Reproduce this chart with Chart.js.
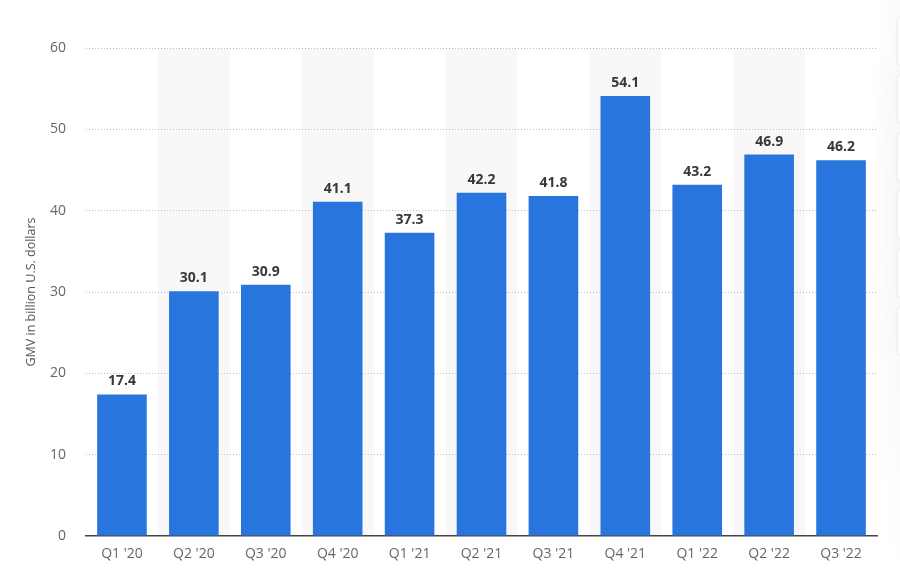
<!DOCTYPE html>
<html>
<head>
<meta charset="utf-8">
<script src="https://cdn.jsdelivr.net/npm/chart.js@4.4.1/dist/chart.umd.min.js"></script>
<style>
  html, body { margin: 0; padding: 0; background: #fff; overflow: hidden; }
  #wrap { position: relative; width: 900px; height: 587px; }
  #side { position: absolute; left: 872px; top: 0; width: 28px; height: 587px;
          background: radial-gradient(ellipse at 100% 35%, rgba(0,0,0,0.035), rgba(0,0,0,0) 70%); }
  .btn { position: absolute; left: 25px; width: 20px; height: 48px; border: 1px solid #eee;
         border-radius: 5px; background: #fff; box-shadow: 0 0 4px rgba(0,0,0,0.05); }
</style>
</head>
<body>
<div id="wrap">
  <canvas id="chart" width="900" height="587"></canvas>
  <div id="side">
    <div class="btn" style="top:16px"></div>
    <div class="btn" style="top:74px"></div>
    <div class="btn" style="top:132px"></div>
    <div class="btn" style="top:190px"></div>
    <div class="btn" style="top:248px"></div>
    <div class="btn" style="top:306px"></div>
  </div>
</div>
<script>
var quarters = ["Q1 '20","Q2 '20","Q3 '20","Q4 '20","Q1 '21","Q2 '21","Q3 '21","Q4 '21","Q1 '22","Q2 '22","Q3 '22"];
var gmv = [17.4, 30.1, 30.9, 41.1, 37.3, 42.2, 41.8, 54.1, 43.2, 46.9, 46.2];
var yTicks = [0, 10, 20, 30, 40, 50, 60];

var fontFamily = "'Open Sans', 'Noto Sans', sans-serif";

// light grey bands behind every second category
var bandPlugin = {
  id: 'bands',
  beforeDraw: function(chart)
  {
    var ctx = chart.ctx, area = chart.chartArea, x = chart.scales.x;
    var w = (area.right - area.left) / quarters.length;
    ctx.save();
    ctx.fillStyle = '#f8f8f8';
    for (var i = 1; i < quarters.length; i += 2)
    {
      var cx = x.getPixelForValue(i);
      ctx.fillRect(cx - w/2, area.top, w, area.bottom - area.top);
    }
    ctx.restore();
  }
};

// value labels above the bars
var labelPlugin = {
  id: 'valueLabels',
  afterDatasetsDraw: function(chart)
  {
    var ctx = chart.ctx;
    var meta = chart.getDatasetMeta(0);
    ctx.save();
    ctx.font = "bold 14px " + fontFamily;
    ctx.fillStyle = '#383838';
    ctx.textAlign = 'center';
    ctx.textBaseline = 'alphabetic';
    meta.data.forEach(function(bar, i)
    {
      ctx.fillText(gmv[i].toFixed(1), bar.x, bar.y - 9);
    });
    ctx.restore();
  }
};

new Chart(document.getElementById('chart'), {
  type: 'bar',
  data: {
    labels: quarters,
    datasets: [{
      data: gmv,
      backgroundColor: '#2876dd',
      borderWidth: 0,
      categoryPercentage: 1.0,
      barPercentage: 0.69
    }]
  },
  options: {
    responsive: false,
    animation: false,
    layout: { padding: { top: 48, right: 23, left: 0, bottom: 0 } },
    plugins: { legend: { display: false }, tooltip: { enabled: false } },
    scales: {
      x: {
        grid: { display: false, drawTicks: false },
        border: { display: true, color: '#444', width: 1.5 },
        ticks: { color: '#666', font: { family: fontFamily, size: 14 }, padding: 10, maxRotation: 0 },
        afterFit: function(s) { s.height = 51; }
      },
      y: {
        min: 0,
        max: 60,
        afterBuildTicks: function(s) { s.ticks = yTicks.map(function(v) { return { value: v }; }); },
        grid: {
          color: function(c) { return c.tick.value === 0 ? 'rgba(0,0,0,0)' : '#bdbdbd'; },
          drawTicks: false,
          lineWidth: 1
        },
        border: { display: false, dash: [1, 2] },
        ticks: { color: '#666', font: { family: fontFamily, size: 14 }, padding: 20 },
        title: {
          display: true,
          text: 'GMV in billion U.S. dollars',
          color: '#555',
          font: { family: fontFamily, size: 12.5 },
          padding: { top: 24, bottom: 0 }
        },
        afterFit: function(s) { s.width = 86; }
      }
    }
  },
  plugins: [bandPlugin, labelPlugin]
});
</script>
</body>
</html>
